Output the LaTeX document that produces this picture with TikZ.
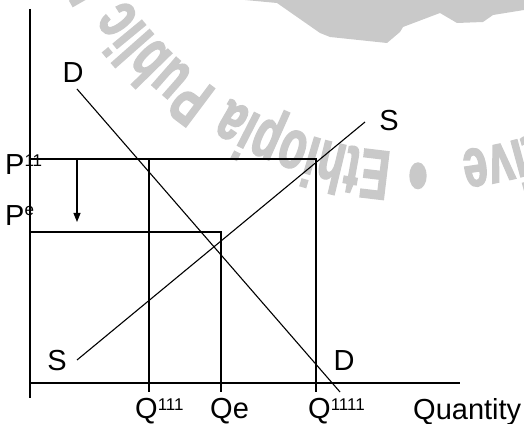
\documentclass[tikz,border=0pt]{standalone}
\usepackage{fontspec}
\setmainfont{Liberation Sans}
\newfontfamily\wmfont{Liberation Sans Bold}[FakeStretch=0.62, FakeBold=2, LetterSpace=6]
\usetikzlibrary{arrows.meta,decorations.text}
\definecolor{wm}{gray}{0.79}
\newcommand{\supr}[2]{\raisebox{#1}{\fontsize{17}{17}\selectfont #2}}
\newcommand{\wmsize}{\wmfont\fontsize{70}{70}\selectfont}
\begin{document}
\begin{tikzpicture}[x=1pt,y=1pt,
  ln/.style={line width=1.1pt, black},
  lbl/.style={inner sep=0pt, font=\fontsize{29}{29}\selectfont},
  wmtext/.style={font=\wmsize, color=wm, decorate, decoration={text along path, text={|\wmsize\color{wm}|#1}}},
  ]
\useasboundingbox (0,0) rectangle (524,423);
% watermark
\begin{scope}
\clip (0,0) rectangle (524,423);
\fill[wm] (245,423) -- (277,420) -- (320,390) -- (330,386) -- (387,380) -- (400,391) -- (403,396) -- (440,410) -- (457,400) -- (483,401) -- (493,408) -- (524,413) -- (524,423) -- cycle;
\path[wmtext={tive}] (420,628) ++(-71.5:358) arc[start angle=-71.5, end angle=-92, radius=358];
\node[text=wm, font=\wmfont\fontsize{88}{88}\selectfont, inner sep=0pt] (bullet) at (418,239) {•};
\path[wmtext={Ethiopia Public Health}] (420,628) ++(-94.5:358) arc[start angle=-94.5, end angle=-215, radius=358];
\end{scope}
% coordinates
\coordinate (yT) at (30,414);
\coordinate (yB) at (30,25);
\coordinate (O) at (30,40);
\coordinate (xE) at (460,40);
\coordinate (p11L) at (30,264);
\coordinate (q2T) at (316,264);
\coordinate (q2B) at (316,31);
\coordinate (q1T) at (149,264);
\coordinate (q1B) at (149,31);
\coordinate (peL) at (30,191);
\coordinate (peR) at (221,191);
\coordinate (qeB) at (221,31);
\coordinate (arS) at (77,264);
\coordinate (arE) at (77,201);
\coordinate (dT) at (77,334);
\coordinate (dB) at (340,31);
\coordinate (sB) at (77,63);
\coordinate (sT) at (365,301);
% lines
\draw[ln] (yT) -- (yB);
\draw[ln] (O) -- (xE);
\draw[ln] (p11L) -- (q2T) -- (q2B);
\draw[ln] (q1T) -- (q1B);
\draw[ln] (peL) -- (peR) -- (qeB);
\draw[ln, -{Triangle[width=7pt,length=9pt]}] (arS) -- (arE);
\draw[ln] (dT) -- (dB);
\draw[ln] (sB) -- (sT);
% labels
\node[lbl] (Dtop) at (73,350) {D};
\node[lbl] (Sr) at (389,302) {S};
\node[lbl] (Sb) at (57,62) {S};
\node[lbl] (Db) at (344,62) {D};
\node[lbl, anchor=base west] (P11) at (5,248) {P\supr{8pt}{11}};
\node[lbl, anchor=base west] (Pe) at (5,197) {P\supr{10pt}{e}};
\node[lbl, anchor=base west] (Q111) at (135,5) {Q\supr{8pt}{111}};
\node[lbl, anchor=base west] (Qe) at (210,5) {Qe};
\node[lbl, anchor=base west] (Q1111) at (308,5) {Q\supr{8pt}{1111}};
\node[lbl, anchor=base west] (Qty) at (413,4) {Quantity};
\end{tikzpicture}
\end{document}
